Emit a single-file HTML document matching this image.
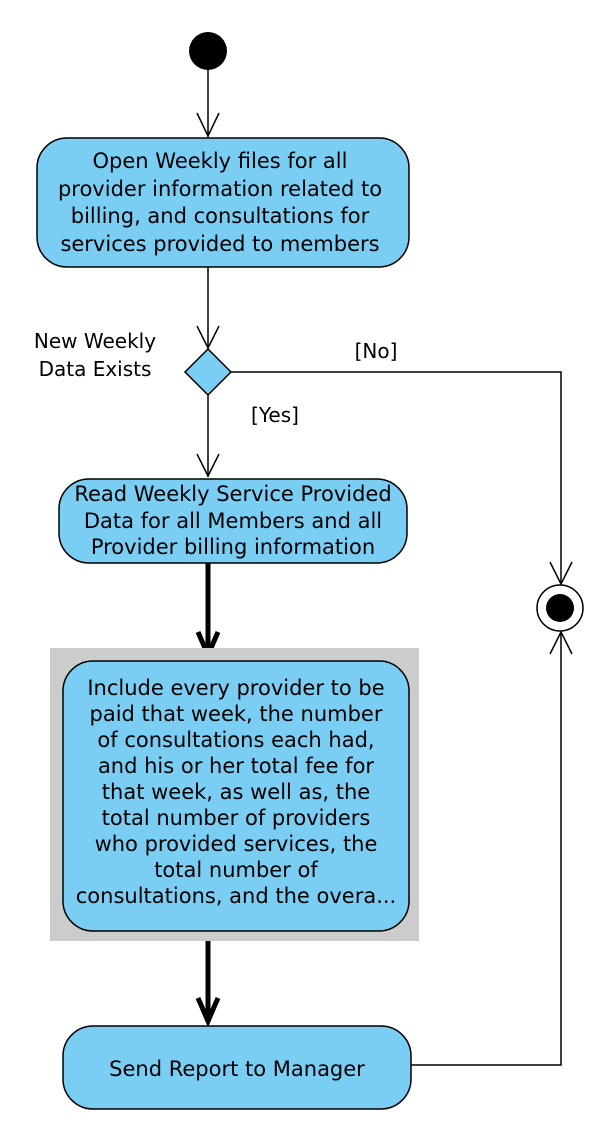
<!DOCTYPE html>
<html><head><meta charset="utf-8"><style>html,body{margin:0;padding:0;background:#fff}svg{display:block}</style></head>
<body>
<svg width="594" height="1130" viewBox="0 0 594 1130" xmlns="http://www.w3.org/2000/svg" font-family="DejaVu Sans, Liberation Sans, sans-serif" font-size="21">
<g stroke="#000" fill="none" stroke-width="1.5">
<line x1="208" y1="60" x2="208" y2="137"/>
<polyline points="197,113 208,136 219,113"/>
<line x1="208" y1="267" x2="208" y2="349"/>
<polyline points="197,326 208,348 219,326"/>
<line x1="208" y1="395" x2="208" y2="477"/>
<polyline points="197,454 208,476 219,454"/>
<polyline points="231,372 561,372 561,584"/>
<polyline points="550,562 561,584 572,562"/>
<polyline points="411,1065 561,1065 561,632"/>
<polyline points="550,654 561,632 572,654"/>
</g>
<g stroke="#000" fill="none" stroke-width="5">
<line x1="208" y1="563" x2="208" y2="656"/>
<polyline points="198,632 208,655 218,632"/>
<line x1="208" y1="932" x2="208" y2="1022"/>
<polyline points="198,998 208,1021 218,998"/>
</g>
<circle cx="208" cy="51" r="19" fill="#000"/>
<rect x="37" y="138" width="372" height="129" rx="30" fill="#7acef4" stroke="#000" stroke-width="1.5"/>
<polygon points="208,349 231,372 208,395 185,372" fill="#7acef4" stroke="#000" stroke-width="1.5"/>
<rect x="59" y="479" width="348" height="84" rx="30" fill="#7acef4" stroke="#000" stroke-width="1.5"/>
<rect x="50" y="648" width="369" height="293" fill="#cccccc"/>
<rect x="63" y="661" width="346" height="270" rx="30" fill="#7acef4" stroke="#000" stroke-width="1.5"/>
<rect x="63" y="1026" width="348" height="83" rx="30" fill="#7acef4" stroke="#000" stroke-width="1.5"/>
<circle cx="560" cy="608" r="23" fill="#fff" stroke="#000" stroke-width="1.5"/>
<circle cx="560" cy="608" r="14" fill="#000"/>
<g fill="#000" text-anchor="middle">
<text x="220" y="168">Open Weekly files for all</text>
<text x="220" y="196">provider information related to</text>
<text x="220" y="223">billing, and consultations for</text>
<text x="220" y="251">services provided to members</text>
<text x="233" y="501">Read Weekly Service Provided</text>
<text x="233" y="528">Data for all Members and all</text>
<text x="233" y="554">Provider billing information</text>
<text x="236" y="695">Include every provider to be</text>
<text x="236" y="721">paid that week, the number</text>
<text x="236" y="747">of consultations each had,</text>
<text x="236" y="773">and his or her total fee for</text>
<text x="236" y="799">that week, as well as, the</text>
<text x="236" y="825">total number of providers</text>
<text x="236" y="851">who provided services, the</text>
<text x="236" y="877">total number of</text>
<text x="236" y="903">consultations, and the overa...</text>
<text x="237" y="1076">Send Report to Manager</text>
<text x="95" y="348" font-size="20">New Weekly</text>
<text x="95" y="376" font-size="20">Data Exists</text>
<text x="376" y="358" font-size="20">[No]</text>
<text x="275" y="422" font-size="20">[Yes]</text>
</g>
</svg>
</body></html>
